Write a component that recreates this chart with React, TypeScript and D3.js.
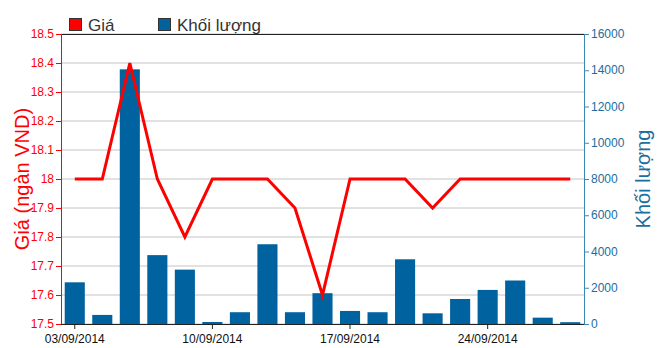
import React from "react";
import * as d3 from "d3";

const dates = ["03/09/2014","04/09/2014","05/09/2014","08/09/2014","09/09/2014","10/09/2014","11/09/2014","12/09/2014","15/09/2014","16/09/2014","17/09/2014","18/09/2014","19/09/2014","22/09/2014","23/09/2014","24/09/2014","25/09/2014","26/09/2014","29/09/2014"];
const prices = [18,18,18.4,18,17.8,18,18,18,17.9,17.6,18,18,18,17.9,18,18,18,18,18];
const volumes = [2300,500,14050,3800,3000,110,650,4400,650,1700,720,650,3570,590,1380,1880,2400,350,100];
const priceTicks = [17.5,17.6,17.7,17.8,17.9,18,18.1,18.2,18.3,18.4,18.5];
const volumeTicks = [0,2000,4000,6000,8000,10000,12000,14000,16000];
const xTickLabels = ["03/09/2014","10/09/2014","17/09/2014","24/09/2014"];

const W = 660, H = 348;
const L = 61, R = 584, T = 34, B = 324;
const RED = "#ff0000";
const BLUE = "#00629f";
const AXBLUE = "#3b88b5";
const FONT = "'Liberation Sans', Arial, sans-serif";

export default function App() {
  const x = d3.scaleBand<string>().domain(dates).range([L, R]).paddingInner(0.27).paddingOuter(0.135);
  const yP = d3.scaleLinear().domain([17.5, 18.5]).range([B, T]);
  const yV = d3.scaleLinear().domain([0, 16000]).range([B, T]);
  const cx = (d: string) => (x(d) as number) + x.bandwidth() / 2;
  const line = d3.line<number>().x((_, i) => cx(dates[i])).y((p) => yP(p));
  const fmtP = (v: number) => (Number.isInteger(v) ? String(v) : v.toFixed(1));

  return (
    <svg width={W} height={H} style={{ position: "absolute", left: 0, top: 0, background: "#fff" }} fontFamily={FONT}>
      {/* gridlines */}
      {priceTicks.map((t) => (
        <line key={"g" + t} x1={L} x2={R} y1={yP(t)} y2={yP(t)} stroke="#c4c4c4" strokeWidth={1} />
      ))}
      <line x1={L} x2={R} y1={T + 0.5} y2={T + 0.5} stroke="#222" strokeWidth={1} />
      {/* bars */}
      {volumes.map((v, i) => (
        <rect key={"b" + i} x={x(dates[i])} y={yV(v)} width={x.bandwidth()} height={B - yV(v)} fill={BLUE} />
      ))}
      {/* price line */}
      <path d={line(prices) || ""} fill="none" stroke={RED} strokeWidth={3} strokeLinejoin="miter" />
      {/* bottom axis */}
      <line x1={L} x2={R} y1={B + 0.5} y2={B + 0.5} stroke="#222" strokeWidth={1} />
      {xTickLabels.map((d) => (
        <g key={"x" + d}>
          <line x1={cx(d)} x2={cx(d)} y1={B} y2={B + 5} stroke="#222" />
          <text x={cx(d)} y={343} textAnchor="middle" fontSize={12} fill="#111">{d}</text>
        </g>
      ))}
      {/* left axis */}
      <line x1={L + 0.5} x2={L + 0.5} y1={T} y2={B} stroke={RED} strokeWidth={1} />
      {priceTicks.map((t) => (
        <g key={"l" + t}>
          <line x1={L - 5} x2={L} y1={yP(t) + 0.5} y2={yP(t) + 0.5} stroke={RED} />
          <text x={L - 7} y={yP(t) + 4} textAnchor="end" fontSize={12} fill={RED}>{fmtP(t)}</text>
        </g>
      ))}
      <text transform={`translate(24,${(T + B) / 2}) rotate(-90)`} textAnchor="middle" dominantBaseline="middle" fontSize={20} fill={RED}>Giá (ngàn VND)</text>
      {/* right axis */}
      <line x1={R + 0.5} x2={R + 0.5} y1={T} y2={B} stroke={AXBLUE} strokeWidth={1} />
      {volumeTicks.map((t) => (
        <g key={"r" + t}>
          <line x1={R} x2={R + 5} y1={yV(t) + 0.5} y2={yV(t) + 0.5} stroke={AXBLUE} />
          <text x={R + 7} y={yV(t) + 4} textAnchor="start" fontSize={12} fill={"#1a6ea0"}>{t}</text>
        </g>
      ))}
      <text transform={`translate(645,${(T + B) / 2}) rotate(-90)`} textAnchor="middle" dominantBaseline="middle" fontSize={20} fill={"#1a6ea0"}>Khối lượng</text>
      {/* legend */}
      <rect x={69.5} y={18.5} width={12} height={12} fill={RED} stroke="#333" strokeWidth={1} />
      <text x={88} y={31} fontSize={17} fill="#333">Giá</text>
      <rect x={158.5} y={18.5} width={12} height={12} fill={BLUE} stroke="#333" strokeWidth={1} />
      <text x={177} y={31} fontSize={17} fill="#333">Khối lượng</text>
    </svg>
  );
}
